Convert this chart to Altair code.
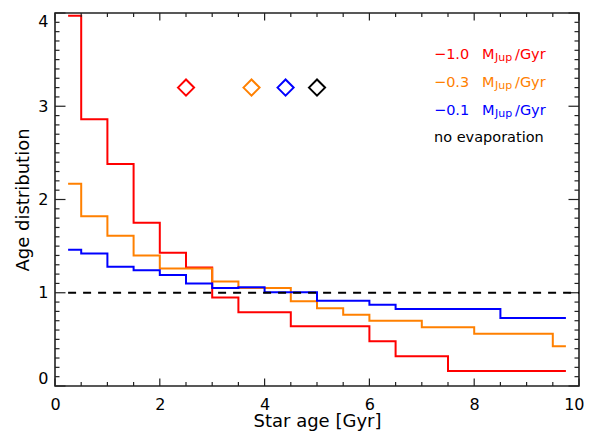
import altair as alt
import pandas as pd

# ---- data ----
bin_starts = [0.25, 0.5, 1.0, 1.5, 2.0, 2.5, 3.0, 3.5, 4.0, 4.5,
              5.0, 5.5, 6.0, 6.5, 7.0, 7.5, 8.0, 8.5, 9.0, 9.5]
last_edge = 9.75

red_vals = [3.97, 2.86, 2.38, 1.75, 1.43, 1.27, 0.95, 0.79, 0.79, 0.64,
            0.64, 0.64, 0.48, 0.32, 0.32, 0.16, 0.16, 0.16, 0.16, 0.16]
orange_vals = [2.17, 1.82, 1.61, 1.40, 1.26, 1.26, 1.12, 1.05, 1.05, 0.91,
               0.835, 0.765, 0.70, 0.70, 0.63, 0.63, 0.56, 0.56, 0.56, 0.425]
blue_vals = [1.46, 1.42, 1.28, 1.24, 1.19, 1.10, 1.05, 1.06, 1.005, 1.005,
             0.915, 0.915, 0.87, 0.825, 0.825, 0.825, 0.825, 0.73, 0.73, 0.73]

series_names = ["-1.0", "-0.3", "-0.1"]
series_colors = ["#ff0000", "#ff8000", "#0000ff"]

diamond_x = [2.5, 3.75, 4.4, 5.0]
diamond_y = [3.2, 3.2, 3.2, 3.2]
diamond_colors = ["#ff0000", "#ff8000", "#0000ff", "#000000"]

ref_x0 = [0.25]
ref_x1 = [10.0]
ref_y = [1.0]

x_label_values = [0, 2, 4, 6, 8, 10]
y_label_values = [0, 1, 2, 3, 4]
x_major = [0, 2, 4, 6, 8, 10]
x_minor = [v / 2 for v in range(0, 21) if v % 4 != 0]
y_major = [0, 1, 2, 3, 4]
y_minor = [v / 10 for v in range(0, 41) if v % 10 != 0]

legend_rates = ["\u22121.0", "\u22120.3", "\u22120.1"]

W, H = 524, 373
FONT = "DejaVu Sans"

# ---- build tables ----
rows = []
for name, vals in zip(series_names, [red_vals, orange_vals, blue_vals]):
    for xs, v in zip(bin_starts, vals):
        rows.append({"series": name, "age": xs, "dist": v})
    rows.append({"series": name, "age": last_edge, "dist": vals[-1]})
hist = pd.DataFrame(rows)

xsc = alt.Scale(domain=[0, 10], nice=False, zero=False)
ysc = alt.Scale(domain=[0, 4], nice=False, zero=False)

xaxis = alt.Axis(values=x_label_values, ticks=False, domain=False, grid=False,
                 labelPadding=10, labelFontSize=16, labelFlush=True, labelFlushOffset=5,
                 labelFont=FONT, titleFont=FONT, labelColor="black", titleColor="black",
                 title="Star age [Gyr]", titleFontSize=18, titleFontWeight="normal",
                 titleBaseline="alphabetic", titleY=40, format="d")
yaxis = alt.Axis(values=y_label_values, ticks=False, domain=False, grid=False,
                 labelPadding=7, labelFontSize=16, labelFlush=True,
                 labelFont=FONT, titleFont=FONT, labelColor="black", titleColor="black",
                 title="Age distribution", titleFontSize=18, titleFontWeight="normal",
                 titleBaseline="alphabetic", titleX=-27, titleY=H / 2,
                 titleAngle=270, titleAlign="center", format="d")

lines = alt.Chart(hist).mark_line(interpolate="step-after", strokeWidth=2).encode(
    x=alt.X("age:Q", scale=xsc, axis=xaxis),
    y=alt.Y("dist:Q", scale=ysc, axis=yaxis),
    color=alt.Color("series:N", scale=alt.Scale(domain=series_names, range=series_colors), legend=None),
    order=alt.Order("age:Q"),
)

refline = alt.Chart(pd.DataFrame({"x0": ref_x0, "x1": ref_x1, "y": ref_y})).mark_rule(
    color="black", strokeWidth=2, strokeDash=[8, 7]).encode(
    x=alt.X("x0:Q", scale=xsc), x2="x1:Q", y=alt.Y("y:Q", scale=ysc))

diamonds = alt.Chart(pd.DataFrame({"x": diamond_x, "y": diamond_y, "c": diamond_colors})).mark_point(
    shape="diamond", filled=False, size=260, strokeWidth=2, opacity=1).encode(
    x=alt.X("x:Q", scale=xsc), y=alt.Y("y:Q", scale=ysc),
    color=alt.Color("c:N", scale=None))

# inward ticks on all four sides
tick_col = "#222222"
def xticks(vals, length):
    d = pd.DataFrame({"v": vals})
    b = alt.Chart(d).mark_rule(color=tick_col, strokeWidth=1.2).encode(
        x=alt.X("v:Q", scale=xsc), y=alt.value(H), y2=alt.value(H - length))
    t = alt.Chart(d).mark_rule(color=tick_col, strokeWidth=1.2).encode(
        x=alt.X("v:Q", scale=xsc), y=alt.value(0), y2=alt.value(length))
    return b + t

def yticks(vals, length):
    d = pd.DataFrame({"v": vals})
    l = alt.Chart(d).mark_rule(color=tick_col, strokeWidth=1.2).encode(
        y=alt.Y("v:Q", scale=ysc), x=alt.value(0), x2=alt.value(length))
    r = alt.Chart(d).mark_rule(color=tick_col, strokeWidth=1.2).encode(
        y=alt.Y("v:Q", scale=ysc), x=alt.value(W), x2=alt.value(W - length))
    return l + r

ticks = xticks(x_major, 7.5) + xticks(x_minor, 4) + yticks(y_major, 10.5) + yticks(y_minor, 4.5)

# legend text (pixel positions in plot area)
leg_rows = []
row_base = [46, 74, 102]
for rate, col, yb in zip(legend_rates, series_colors, row_base):
    leg_rows.append({"t": rate, "px": 379, "py": yb, "c": col, "fs": 14.5})
    leg_rows.append({"t": "M", "px": 427, "py": yb, "c": col, "fs": 14.5})
    leg_rows.append({"t": "Jup", "px": 440, "py": yb + 2, "c": col, "fs": 11})
    leg_rows.append({"t": "/Gyr", "px": 460, "py": yb, "c": col, "fs": 14.5})
leg_rows.append({"t": "no evaporation", "px": 379, "py": 129, "c": "#000000", "fs": 14.5})
legend = alt.Chart(pd.DataFrame(leg_rows)).mark_text(
    align="left", baseline="alphabetic", font=FONT).encode(
    x=alt.X("px:Q", scale=None), y=alt.Y("py:Q", scale=None),
    text="t:N", color=alt.Color("c:N", scale=None), size=alt.Size("fs:Q", scale=None))

chart = alt.layer(lines, ticks, refline, diamonds, legend).properties(
    width=W, height=H,
    background="white",
    autosize=alt.AutoSizeParams(type="none"),
    padding={"left": 47, "top": 5, "right": 5, "bottom": 45},
).configure_view(stroke="#222222", strokeWidth=1.6).configure_axis(
    labelFont=FONT, titleFont=FONT, labelColor="black", titleColor="black"
)

chart.save("out.html", embed_options={"renderer": "svg", "actions": False})
